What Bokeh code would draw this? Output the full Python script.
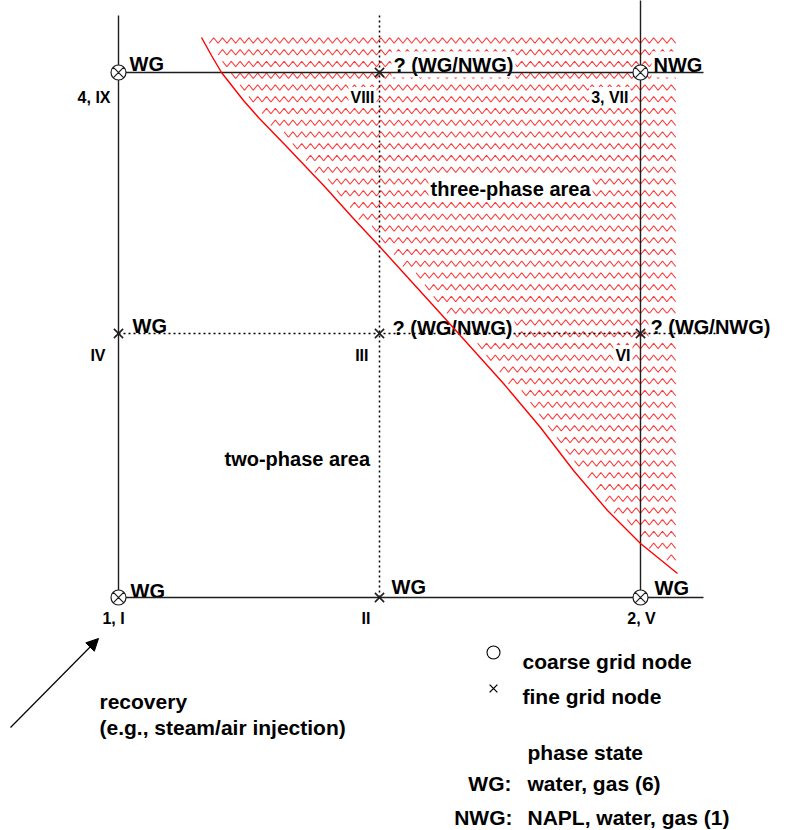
import numpy as np
from bokeh.plotting import figure
from bokeh.models import Range1d, Label, Arrow, NormalHead
from bokeh.embed import file_html
from bokeh.resources import INLINE

# ---------------- data ----------------
# coarse grid nodes (diagram coordinates, y downwards)
coarse_x = [118, 640, 118, 640]
coarse_y = [597, 597, 72, 72]
coarse_ids = ["1, I", "2, V", "4, IX", "3, VII"]
coarse_state = ["WG", "WG", "WG", "NWG"]

# fine grid nodes
fine_x = [379, 118, 379, 640, 379]
fine_y = [597, 333, 333, 333, 72]
fine_ids = ["II", "IV", "III", "VI", "VIII"]
fine_state = ["WG", "WG", "? (WG/NWG)", "? (WG/NWG)", "? (WG/NWG)"]

# boundary between two-phase and three-phase area
boundary_x = [201, 211, 221, 243, 258, 287, 325, 352, 380, 410, 440, 458, 503, 540, 573, 607, 640, 677]
boundary_y = [37, 55, 72, 100, 117, 147, 187, 217, 247, 280, 313, 333, 383, 427, 470, 510, 543, 573]
three_phase_right = 679
three_phase_top = 40

area_labels = ["three-phase area", "two-phase area"]
legend_items = ["coarse grid node", "fine grid node"]
phase_keys = ["WG:", "NWG:"]
phase_desc = ["water, gas (6)", "NAPL, water, gas (1)"]

FONT = "Liberation Sans"

p = figure(width=787, height=830, x_range=Range1d(0, 787), y_range=Range1d(830, 0),
           output_backend="svg", toolbar_location=None, min_border=0,
           x_axis_location=None, y_axis_location=None)
p.grid.visible = False
p.outline_line_color = None
p.background_fill_color = "white"
p.border_fill_color = "white"

# ---------- zigzag hatch of three-phase area ----------
half = 4.4
amp = 5.5
spacing = 11.75
xs, ys = [], []
bx = np.array(boundary_x, float)
by = np.array(boundary_y, float)
ry = three_phase_top
while ry <= by[-1] - 14:
    xstart = np.interp(ry, by, bx) + 6
    k0 = int(np.ceil((xstart - 200) / half))
    k1 = int(np.floor((three_phase_right - 200) / half))
    if k1 > k0:
        ks = np.arange(k0, k1 + 1)
        xs.append(list(200 + ks * half))
        ys.append(list(ry + np.where(ks % 2 == 0, amp / 2, -amp / 2)))
    ry += spacing
p.multi_line(xs, ys, line_color="#ff3a3a", line_width=1.2)

# ---------- label helper ----------
def lab(text, x, y, size, align="left", bg=True):
    p.add_layout(Label(x=x, y=y, text=text, text_font=FONT, text_font_style="bold",
                       text_font_size=f"{size}px", text_align=align,
                       text_baseline="alphabetic", text_color="black",
                       background_fill_color="white" if bg else None,
                       padding=2))

# state labels
lab(coarse_state[0], 128, 590, 20)
lab(coarse_state[1], 652, 587, 20)
lab(coarse_state[2], 127, 63, 20)
lab(coarse_state[3], 651, 64, 20)
lab(fine_state[0], 389, 586, 20)
lab(fine_state[1], 130, 325, 20)
lab(fine_state[2], 390, 327, 20)
lab(fine_state[3], 648, 326, 20)
lab(fine_state[4], 391, 64, 20)

# node ids
lab(coarse_ids[0], 113, 618, 16, "center")
lab(coarse_ids[1], 641, 618, 16, "center")
lab(coarse_ids[2], 112, 97, 16, "right")
lab(coarse_ids[3], 630, 97, 16, "right")
lab(fine_ids[0], 372, 618, 16, "right")
lab(fine_ids[1], 107, 355, 16, "right")
lab(fine_ids[2], 370, 355, 16, "right")
lab(fine_ids[3], 632, 355, 16, "right")
lab(fine_ids[4], 376, 97, 16, "right")

# area labels
lab(area_labels[0], 428, 188, 20)
lab(area_labels[1], 222, 458, 20)

# recovery
lab("recovery", 97, 701, 21, bg=False)
lab("(e.g., steam/air injection)", 97, 727, 21, bg=False)

# legend
lab(legend_items[0], 520, 661, 21, bg=False)
lab(legend_items[1], 520, 696, 21, bg=False)
lab("phase state", 525, 752, 21, bg=False)
lab(phase_keys[0], 513, 783, 21, "right", bg=False)
lab(phase_desc[0], 525, 783, 21, bg=False)
lab(phase_keys[1], 514, 817, 21, "right", bg=False)
lab(phase_desc[1], 525, 817, 21, bg=False)

# ---------- lines (above label backgrounds) ----------
LC = "#1e1e1e"
# coarse grid lines
p.segment(x0=[118, 640, 118, 118], y0=[15, 0, 72, 597],
          x1=[118, 640, 703, 703], y1=[597, 597, 72, 597],
          line_color=LC, line_width=1.4, level="overlay")
# fine grid dotted lines
p.segment(x0=[379, 118], y0=[15, 333], x1=[379, 715], y1=[597, 333],
          line_color="black", line_width=1.5, line_dash="2 3", level="overlay")

# boundary curve
p.line(boundary_x, boundary_y, line_color="#ff0000", line_width=1.4, level="overlay")

# nodes
p.scatter(coarse_x, coarse_y, marker="circle_x", size=15, line_color=LC,
          fill_color="white", line_width=1.2, level="overlay")
p.scatter(fine_x, fine_y, marker="x", size=13, line_color=LC, line_width=1.6, level="overlay")

# legend symbols
p.scatter([493], [652], marker="circle", size=13, line_color="black", fill_color="white",
          line_width=1.1, level="overlay")
p.scatter([493], [688], marker="x", size=11, line_color="black", line_width=1.3, level="overlay")

# recovery arrow
p.add_layout(Arrow(end=NormalHead(size=12, fill_color="black", line_color="black"),
                   x_start=10, y_start=727, x_end=98, y_end=638,
                   line_color="black", line_width=1.2))

open("out.html", "w").write(file_html(p, INLINE))
